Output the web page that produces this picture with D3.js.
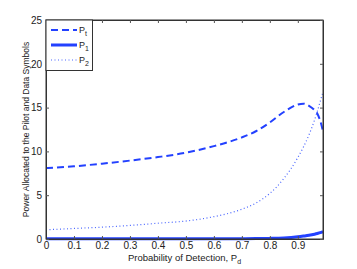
<!DOCTYPE html>
<html>
<head>
<meta charset="utf-8">
<script src="https://cdn.jsdelivr.net/npm/d3@7"></script>
<style>
  body { margin: 0; background: #fff; }
  text { font-family: "Liberation Sans", Arial, sans-serif; }
</style>
</head>
<body>
<div id="chart"></div>
<script>
const width = 357;
const height = 269;
const margin = {top: 20, right: 34, bottom: 30, left: 46};
const lineColor = "#2341ff";

// probability of detection
const pd = [0, 0.1, 0.2, 0.3, 0.4, 0.5, 0.6, 0.7, 0.75, 0.8, 0.85, 0.9, 0.92, 0.94, 0.96, 0.97, 0.98, 0.99];
const pt = [8.1, 8.3, 8.6, 8.95, 9.35, 9.85, 10.6, 11.6, 12.3, 13.3, 14.5, 15.35, 15.45, 15.2, 14.7, 14.3, 13.5, 12.3];
const p1 = [0.03, 0.03, 0.03, 0.03, 0.03, 0.03, 0.03, 0.04, 0.05, 0.07, 0.12, 0.25, 0.33, 0.42, 0.55, 0.63, 0.72, 0.85];
const p2 = [1.05, 1.2, 1.35, 1.55, 1.8, 2.05, 2.55, 3.4, 4.1, 5.2, 6.9, 9.3, 10.5, 11.9, 13.6, 14.6, 15.7, 16.8];

const xTicks = [0, 0.1, 0.2, 0.3, 0.4, 0.5, 0.6, 0.7, 0.8, 0.9];
const yTicks = [0, 5, 10, 15, 20, 25];

const series = [
  {name: "t", values: pt, width: 2, dash: "7,4", color: lineColor},
  {name: "1", values: p1, width: 3, dash: null, color: lineColor},
  {name: "2", values: p2, width: 1.2, dash: "1,2.5", color: "#4a66ff"}
];

const svg = d3.select('#chart')
  .append('svg')
  .attr('width', width)
  .attr('height', height);

const x = d3.scaleLinear()
  .domain([0, 0.99])
  .range([margin.left, width - margin.right]);

const y = d3.scaleLinear()
  .domain([0, 25])
  .range([height - margin.bottom, margin.top]);

const line = d3.line()
  .x(d => x(d[0]))
  .y(d => y(d[1]))
  .curve(d3.curveMonotoneX);

series.forEach(s => {
  svg.append('path')
    .datum(pd.map((p, i) => [p, s.values[i]]))
    .attr('fill', 'none')
    .attr('stroke', s.color)
    .attr('stroke-width', s.width)
    .attr('stroke-dasharray', s.dash)
    .attr('d', line);
});

// box
svg.append('rect')
  .attr('x', x(0))
  .attr('y', y(25))
  .attr('width', x(0.99) - x(0))
  .attr('height', y(0) - y(25))
  .attr('fill', 'none')
  .attr('stroke', '#333')
  .attr('stroke-width', 1);

const xAxis = svg.append('g')
  .attr('transform', `translate(0, ${y(0)})`)
  .call(d3.axisBottom(x).tickValues(xTicks).tickSizeInner(-3).tickSizeOuter(0).tickPadding(3).tickFormat(d => d === 0 ? "0" : d3.format(".1f")(d)));
const xTop = svg.append('g')
  .attr('transform', `translate(0, ${y(25)})`)
  .call(d3.axisTop(x).tickValues(xTicks).tickSizeInner(-3).tickSizeOuter(0).tickFormat(''));
const yAxis = svg.append('g')
  .attr('transform', `translate(${x(0)}, 0)`)
  .call(d3.axisLeft(y).tickValues(yTicks).tickSizeInner(-3).tickSizeOuter(0).tickPadding(4));
const yRight = svg.append('g')
  .attr('transform', `translate(${x(0.99)}, 0)`)
  .call(d3.axisRight(y).tickValues(yTicks).tickSizeInner(-3).tickSizeOuter(0).tickFormat(''));

[xAxis, xTop, yAxis, yRight].forEach(a => {
  a.select('.domain').attr('stroke', '#333');
  a.selectAll('.tick line').attr('stroke', '#555');
  a.selectAll('text').attr('font-size', 10).attr('fill', '#222')
    .attr('font-family', '"Liberation Sans", Arial, sans-serif');
});

// axis labels
const xLabel = svg.append('text')
  .attr('x', (x(0) + x(0.99)) / 2)
  .attr('y', 261)
  .attr('text-anchor', 'middle')
  .attr('font-size', 9.5)
  .attr('fill', '#222');
xLabel.append('tspan').text('Probability of Detection, P');
xLabel.append('tspan').attr('dy', 3).attr('font-size', 7).text('d');

svg.append('text')
  .attr('text-anchor', 'middle')
  .attr('transform', `translate(29, ${(y(0) + y(25)) / 2}) rotate(-90)`)
  .attr('font-size', 8.5)
  .attr('fill', '#222')
  .text('Power Allocated to the Pilot and Data Symbols');

// legend
const legend = svg.append('g');
legend.append('rect')
  .attr('x', x(0))
  .attr('y', y(25))
  .attr('width', 46.5)
  .attr('height', 50.5)
  .attr('fill', '#fff')
  .attr('stroke', '#333');

series.forEach((s, i) => {
  const ly = 30 + i * 15;
  legend.append('line')
    .attr('x1', 51).attr('x2', 77)
    .attr('y1', ly).attr('y2', ly)
    .attr('stroke', s.color)
    .attr('stroke-width', s.width)
    .attr('stroke-dasharray', s.dash);
  const t = legend.append('text')
    .attr('x', 79)
    .attr('y', ly + 3)
    .attr('font-size', 9)
    .attr('fill', '#222');
  t.append('tspan').text('P');
  t.append('tspan').attr('dy', 3).attr('font-size', 7).text(s.name);
});
</script>
</body>
</html>
